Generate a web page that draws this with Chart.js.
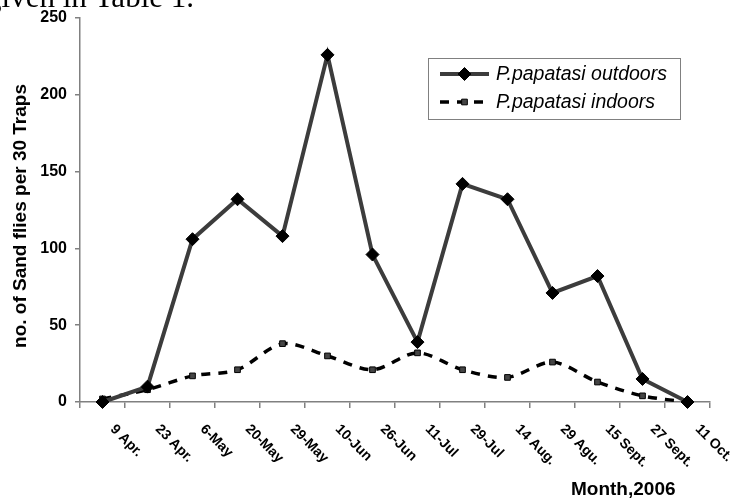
<!DOCTYPE html>
<html><head><meta charset="utf-8">
<script src="https://cdn.jsdelivr.net/npm/chart.js@4/dist/chart.umd.min.js"></script>
<style>html,body{margin:0;padding:0;background:#fff;overflow:hidden}canvas{display:block}</style>
</head><body>
<canvas id="c" width="732" height="499"></canvas>
<script>
const categories = ['9 Apr.','23 Apr.','6-May','20-May','29-May','10-Jun','26-Jun','11-Jul','29-Jul','14 Aug.','29 Agu.','15 Sept.','27 Sept.','11 Oct.'];
const outdoors = [0,10,106,132,108,226,96,39,142,132,71,82,15,0];
const indoors = [2,8,17,21,38,30,21,32,21,16,26,13,4,0];
const yTicks = [0,50,100,150,200,250];
const seriesNames = ['P.papatasi outdoors','P.papatasi indoors'];
const yTitle = 'no. of Sand flies per 30 Traps';
const xTitle = 'Month,2006';
const pageText = 'given in Table 1.';

const SANS = '"Liberation Sans", Arial, sans-serif';
const AXIS = '#808080';

const textPlugin = {
  id: 'texts',
  afterDraw(chart) {
    const ctx = chart.ctx;
    const xs = chart.scales.x;
    ctx.save();
    // page text cut at top
    ctx.fillStyle = '#000';
    ctx.font = '31px "Liberation Serif", "Times New Roman", serif';
    ctx.textAlign = 'right';
    ctx.textBaseline = 'alphabetic';
    ctx.fillText(pageText, 194, 7);
    // x labels rotated
    ctx.font = 'bold 14px ' + SANS;
    ctx.textAlign = 'left';
    ctx.textBaseline = 'middle';
    categories.forEach((c, i) => {
      const x = xs.getPixelForValue(i) + 10;
      const y = xs.top + 25;
      ctx.save();
      ctx.translate(x, y);
      ctx.rotate(Math.PI / 4);
      ctx.fillText(c, 0, 0);
      ctx.restore();
    });
    // x title
    ctx.font = 'bold 19px ' + SANS;
    ctx.textAlign = 'left';
    ctx.textBaseline = 'alphabetic';
    ctx.fillText(xTitle, 571, 495);
    // y title
    ctx.save();
    ctx.translate(21, 216);
    ctx.rotate(-Math.PI / 2);
    ctx.font = 'bold 19px ' + SANS;
    ctx.textAlign = 'center';
    ctx.textBaseline = 'middle';
    ctx.fillText(yTitle, 0, 0);
    ctx.restore();
    // legend
    ctx.strokeStyle = AXIS;
    ctx.lineWidth = 1;
    ctx.strokeRect(428.5, 58.5, 252, 61);
    const rows = [74, 102];
    chart.data.datasets.forEach((ds, i) => {
      const y = rows[i];
      ctx.save();
      ctx.strokeStyle = ds.borderColor;
      ctx.lineWidth = ds.borderWidth;
      ctx.setLineDash(ds.borderDash || []);
      ctx.beginPath();
      ctx.moveTo(440, y);
      ctx.lineTo(489, y);
      ctx.stroke();
      ctx.restore();
      ctx.fillStyle = ds.pointBackgroundColor;
      ctx.strokeStyle = ds.pointBorderColor;
      ctx.lineWidth = ds.pointBorderWidth;
      Chart.helpers.drawPoint(ctx, {pointStyle: ds.pointStyle, radius: ds.pointRadius, borderWidth: ds.pointBorderWidth, rotation: 0}, 464.5, y);
      ctx.fillStyle = '#000';
      ctx.font = 'italic 19.5px ' + SANS;
      ctx.textAlign = 'left';
      ctx.textBaseline = 'middle';
      ctx.fillText(ds.label, 496, y + 1);
    });
    ctx.restore();
  }
};

new Chart(document.getElementById('c'), {
  type: 'line',
  data: {
    labels: categories,
    datasets: [
      {
        label: seriesNames[0], data: outdoors,
        borderColor: '#3c3c3c', borderWidth: 4, tension: 0,
        pointStyle: 'rectRot', pointRadius: 6.5, pointBackgroundColor: '#000', pointBorderColor: '#000', pointBorderWidth: 1,
        clip: false, order: 1
      },
      {
        label: seriesNames[1], data: indoors,
        borderColor: '#000', borderWidth: 3.5, borderDash: [9, 8], tension: 0.3,
        pointStyle: 'rect', pointRadius: 4, pointBackgroundColor: '#444', pointBorderColor: '#000', pointBorderWidth: 1,
        clip: false, order: 2
      }
    ]
  },
  options: {
    responsive: false,
    animation: false,
    devicePixelRatio: 1,
    layout: { padding: { left: 0, top: 18, right: 22, bottom: 0 } },
    plugins: { legend: { display: false }, tooltip: { enabled: false } },
    scales: {
      x: {
        offset: true,
        grid: { offset: true, drawOnChartArea: false, drawTicks: true, tickLength: 6, color: AXIS, lineWidth: 1.5 },
        border: { color: AXIS, width: 1.5 },
        ticks: { display: false },
        afterFit: s => { s.height = 97; }
      },
      y: {
        min: 0, max: 250,
        afterBuildTicks: s => { s.ticks = yTicks.map(v => ({ value: v })); },
        grid: { drawOnChartArea: false, drawTicks: true, tickLength: 5, color: AXIS, lineWidth: 1.5 },
        border: { color: AXIS, width: 1.5 },
        ticks: { color: '#000', padding: 8, font: { family: SANS, size: 16, weight: 'bold' } },
        afterFit: s => { s.width = 80; }
      }
    }
  },
  plugins: [textPlugin]
});
</script>
</body></html>
